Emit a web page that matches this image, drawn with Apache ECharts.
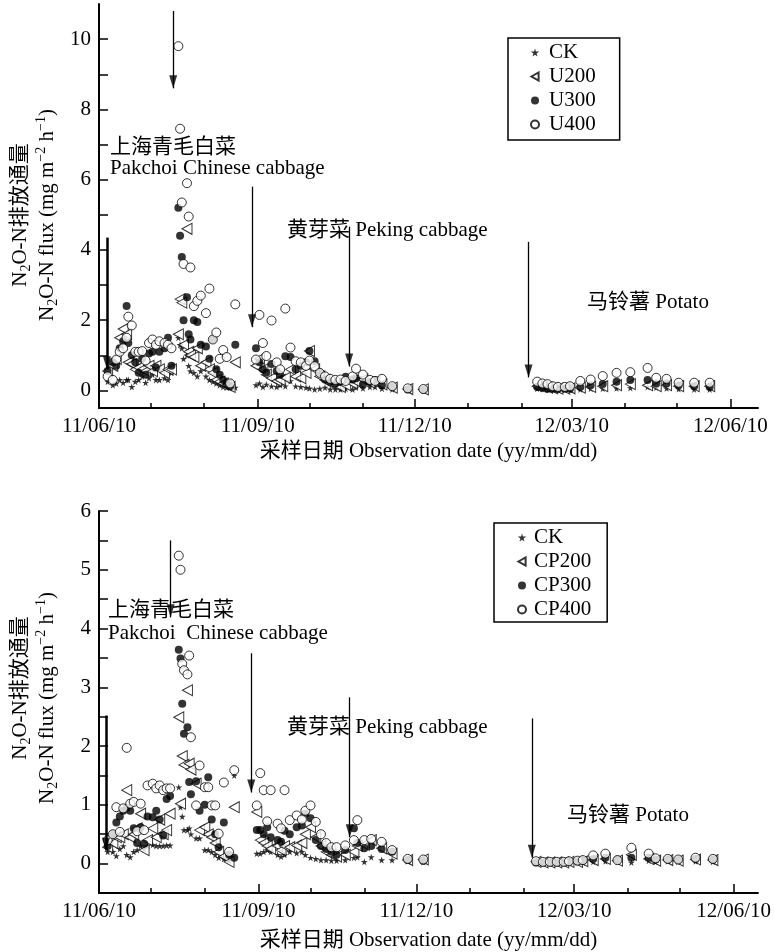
<!DOCTYPE html>
<html><head><meta charset="utf-8">
<script src="https://cdn.jsdelivr.net/npm/echarts@6/dist/echarts.min.js"></script>
<style>html,body{margin:0;padding:0;background:#fff}#c{width:774px;height:952px}</style>
</head><body><div id="c"></div>
<script>
const FONT = "'Liberation Serif','Times New Roman','Noto Sans CJK SC',serif";

// x values: days since 2011-06-10
const xTickDays = [0, 92, 183, 274, 366];
const xTickLabels = ['11/06/10', '11/09/10', '11/12/10', '12/03/10', '12/06/10'];
const xMinorDays = [30, 61, 122, 153, 214, 245, 305, 335];

// ---------- top panel (urea) ----------
const topDays = [5,8,10,12,14,16,17,19,21,23,25,27,29,31,33,35,38,40,42,46,47,48,49,51,52,53,55,57,59,62,64,66,68,70,72,74,76,79,
  91,93,95,97,100,103,105,108,111,114,117,120,122,125,128,131,134,137,140,143,147,149,153,157,160,164,170,179,188,
  254,257,260,263,266,270,273,279,285,292,300,308,318,323,329,336,345,354];
const topCK = [0.25,0.15,0.2,0.3,0.22,0.3,0.3,0.1,0.25,0.3,0.4,0.22,0.35,0.45,0.3,0.3,0.35,0.3,0.5,1.5,1.3,1.2,0.9,1.0,0.7,0.55,0.5,0.4,0.55,0.4,0.3,0.25,0.2,0.15,0.1,0.08,0.08,0.08,
  0.15,0.2,0.1,0.17,0.12,0.1,0.15,0.12,0.27,0.12,0.1,0.08,0.06,0.03,0.05,0.08,0.03,0.03,0.03,0.05,0.03,0.08,0.06,0.1,0.1,0.05,0.03,0.02,0.01,
  0.05,0.04,0.03,0.03,0.02,0.02,0.02,0.03,0.05,0.05,0.06,0.07,0.1,0.08,0.06,0.04,0.03,0.03];
const topU200 = [0.55,0.7,0.9,1.5,1.75,1.6,0.8,0.75,0.6,0.65,0.6,0.55,0.7,0.55,0.7,0.6,0.5,0.6,0.6,1.6,2.6,2.5,1.3,4.6,1.1,1.0,0.95,1.2,0.7,0.8,0.6,0.5,0.3,0.25,0.2,0.15,0.1,0.8,
  0.7,0.9,0.6,0.45,0.35,0.27,0.3,0.36,0.6,0.4,0.35,0.5,1.12,0.6,0.4,0.3,0.2,0.15,0.1,0.15,0.2,0.25,0.31,0.22,0.25,0.17,0.08,0.04,0.03,
  0.12,0.1,0.08,0.06,0.05,0.05,0.06,0.08,0.1,0.12,0.15,0.18,0.15,0.12,0.15,0.12,0.12,0.12];
const topU300 = [0.55,0.8,0.7,1.2,1.4,2.4,1.35,1.0,0.8,0.5,0.9,0.45,1.05,1.1,0.65,1.1,1.2,1.5,0.7,5.2,4.4,3.8,2.0,2.65,1.6,1.45,2.0,1.95,1.3,1.25,0.9,1.45,0.6,0.45,0.3,0.2,0.12,1.3,
  1.2,0.8,0.6,0.5,0.75,0.55,0.45,0.97,0.95,0.6,0.7,0.8,1.12,0.83,0.5,0.31,0.25,0.2,0.25,0.39,0.31,0.35,0.17,0.24,0.3,0.15,0.1,0.03,0.02,
  0.1,0.08,0.05,0.05,0.04,0.05,0.05,0.1,0.15,0.18,0.25,0.3,0.3,0.2,0.2,0.15,0.12,0.1];
const topU400 = [0.4,0.3,0.88,1.1,1.2,1.5,2.1,1.85,1.1,1.1,1.12,0.85,1.35,1.45,1.3,1.4,1.35,1.3,1.2,9.8,7.45,5.35,3.6,5.9,4.95,3.5,2.4,2.55,2.7,2.2,2.9,1.45,1.65,0.9,1.15,0.95,0.2,2.45,
  0.88,2.15,1.35,0.98,1.99,0.8,0.6,2.33,1.22,0.83,0.8,0.7,0.85,0.69,0.5,0.4,0.33,0.3,0.31,0.27,0.4,0.62,0.45,0.3,0.27,0.33,0.12,0.06,0.04,
  0.25,0.2,0.18,0.12,0.1,0.1,0.12,0.27,0.31,0.41,0.5,0.52,0.64,0.36,0.33,0.22,0.22,0.22];

// ---------- bottom panel (compound) ----------
const botDays = [5,8,10,12,14,16,18,20,22,24,26,28,31,33,35,37,39,41,46,47,48,49,51,52,53,56,58,61,63,65,67,69,72,75,78,
  91,93,95,97,99,103,105,107,110,114,117,119,122,125,128,131,134,137,142,147,149,153,157,163,169,178,187,
  252,256,260,264,268,271,276,279,285,292,299,307,317,321,328,334,344,354];
const botCK = [0.2,0.2,0.13,0.25,0.3,0.15,0.11,0.2,0.23,0.3,0.25,0.3,0.32,0.3,0.3,0.3,0.31,0.31,1.3,0.96,0.8,0.57,0.57,0.6,0.5,0.43,0.43,0.23,0.23,0.2,0.15,0.1,0.08,0.05,1.5,
  0.17,0.17,0.2,0.23,0.2,0.15,0.12,0.15,0.2,0.18,0.2,0.15,0.1,0.08,0.06,0.06,0.05,0.05,0.06,0.1,0.11,0.03,0.11,0.06,0.06,0.04,0.03,
  0.01,0.01,0.01,0.01,0.01,0.01,0.02,0.02,0.03,0.04,0.03,0.02,0.05,0.03,0.04,0.03,0.04,0.03];
const botCP200 = [0.28,0.35,0.45,0.45,0.5,1.25,0.45,0.5,0.6,0.85,0.23,0.4,0.6,0.45,0.75,0.5,0.57,0.85,2.49,1.02,1.83,1.68,2.95,1.7,1.6,1.36,0.57,0.62,0.5,0.45,0.35,0.2,0.12,0.03,0.96,
  0.88,0.4,0.35,0.3,0.25,0.3,0.23,0.3,0.28,0.31,0.35,0.5,0.62,0.45,0.3,0.2,0.15,0.12,0.15,0.2,0.3,0.32,0.4,0.26,0.17,0.06,0.07,
  0.03,0.02,0.02,0.02,0.02,0.03,0.03,0.04,0.06,0.08,0.05,0.15,0.08,0.05,0.06,0.05,0.07,0.06];
const botCP300 = [0.3,0.5,0.7,0.8,0.9,0.95,0.9,0.6,0.35,0.62,0.34,0.8,0.79,0.9,0.75,0.48,1.1,1.15,3.64,3.49,2.72,2.21,2.32,1.39,1.18,1.4,0.9,1.0,1.47,0.75,0.5,0.28,0.7,0.15,0.1,
  0.57,0.57,0.5,0.62,0.45,0.4,0.37,0.56,0.5,0.62,0.65,0.85,0.77,0.4,0.3,0.25,0.2,0.15,0.23,0.6,0.35,0.26,0.3,0.25,0.2,0.06,0.05,
  0.02,0.02,0.02,0.02,0.02,0.03,0.04,0.05,0.08,0.1,0.07,0.1,0.1,0.07,0.07,0.06,0.08,0.07];
const botCP400 = [0.4,0.5,0.96,0.54,0.94,1.97,1.02,1.05,0.55,1.02,0.57,1.33,1.36,1.28,1.33,1.25,1.28,1.28,5.24,5.0,3.4,3.29,3.22,3.54,2.15,0.99,1.67,1.3,1.3,0.99,0.99,0.51,1.38,0.2,1.59,
  0.99,1.54,1.25,0.72,1.25,0.68,0.6,1.25,0.74,0.82,0.75,0.9,0.99,0.71,0.5,0.35,0.28,0.28,0.31,0.4,0.74,0.4,0.42,0.37,0.23,0.08,0.07,
  0.04,0.03,0.03,0.03,0.03,0.04,0.05,0.06,0.14,0.17,0.06,0.27,0.17,0.09,0.08,0.07,0.1,0.08];

// arrows: [day, top value, tip value]
const topArrows = [[4.6, 4.35, 0.6], [43, 10.8, 8.6], [88.7, 5.8, 1.8], [145, 4.66, 0.68], [249, 4.23, 0.37]];
const botArrows = [[4.0, 2.52, 0.22], [41.3, 5.5, 4.19], [87.8, 3.58, 1.21], [144.6, 2.83, 0.45], [249.6, 2.47, 0.1]];

const topYTicks = [0,1,2,3,4,5,6,7,8,9,10];
const topYLabels = [0,2,4,6,8,10];
const botYTicks = [0,0.5,1,1.5,2,2.5,3,3.5,4,4.5,5,5.5,6];
const botYLabels = [0,1,2,3,4,5,6];

const STAR = 'path://M50,0 L61,35 L98,35 L68,57 L79,91 L50,70 L21,91 L32,57 L2,35 L39,35 Z';
const TRI = 'path://M0,50 L90,0 L90,100 Z';
const HEAD = 'path://M0,0 L10,0 L5,16 Z';

const pairs = (d, v) => d.map((x, i) => [x, v[i]]);
const txt = {fontFamily: FONT, fontSize: 21, color: '#000'};

function xAxes(grid, max, gap) {
  return [{
    gridIndex: grid, type: 'value', min: 0, max: max,
    axisLine: {onZero: false, lineStyle: {color: '#000', width: 2}},
    axisTick: {inside: true, length: 9, customValues: xTickDays, lineStyle: {color: '#000', width: 1.5}},
    axisLabel: Object.assign({customValues: xTickDays, margin: 8,
      formatter: v => { const i = xTickDays.indexOf(v); return i >= 0 ? xTickLabels[i] : ''; }}, txt),
    splitLine: {show: false},
    name: '采样日期 Observation date (yy/mm/dd)', nameLocation: 'middle', nameGap: gap, nameTextStyle: txt
  }, {
    gridIndex: grid, type: 'value', min: 0, max: max, position: 'bottom',
    axisLine: {show: false, onZero: false},
    axisTick: {inside: true, length: 5, customValues: xMinorDays, lineStyle: {color: '#000', width: 1.5}},
    axisLabel: {show: false}, splitLine: {show: false}
  }];
}
function yAxis(grid, max, ticks, labels) {
  return {
    gridIndex: grid, type: 'value', min: -0.5, max: max,
    axisLine: {onZero: false, lineStyle: {color: '#000', width: 2}},
    axisTick: {inside: true, length: 9, customValues: ticks, lineStyle: {color: '#000', width: 1.5}},
    axisLabel: Object.assign({customValues: labels, margin: 8}, txt),
    splitLine: {show: false}
  };
}
function dataSeries(name, xi, yi, d, v, kind) {
  const s = {name, type: 'scatter', xAxisIndex: xi, yAxisIndex: yi, data: pairs(d, v), animation: false};
  if (kind === 'star') Object.assign(s, {symbol: STAR, symbolSize: 7, itemStyle: {color: '#000'}});
  if (kind === 'tri') Object.assign(s, {symbol: TRI, symbolSize: [10, 11], itemStyle: {color: '#fff', borderColor: '#000', borderWidth: 1}});
  if (kind === 'dot') Object.assign(s, {symbol: 'circle', symbolSize: 8, itemStyle: {color: '#000'}});
  if (kind === 'ring') Object.assign(s, {symbol: 'circle', symbolSize: 9, itemStyle: {color: '#fff', borderColor: '#000', borderWidth: 1}});
  return s;
}
function arrowSeries(xi, yi, arrows) {
  return {
    name: 'arrows', type: 'scatter', xAxisIndex: xi, yAxisIndex: yi, z: 5, animation: false, silent: true,
    symbol: HEAD, symbolSize: [8, 13], symbolOffset: [0, -6.5], itemStyle: {color: '#000'},
    data: arrows.map(a => [a[0], a[2]]),
    markLine: {
      silent: true, animation: false, symbol: ['none', 'none'], label: {show: false},
      data: arrows.map((a, i) => [
        {coord: [a[0], a[1]], lineStyle: {color: '#000', width: i === 0 ? 2.5 : 1.3, type: 'solid'}},
        {coord: [a[0], a[2]]}
      ])
    }
  };
}
function yName(x, y, rich) {
  return {type: 'text', x: x, y: y, rotation: Math.PI / 2, silent: true,
    style: {text: rich, textAlign: 'center', textVerticalAlign: 'middle', align: 'center', verticalAlign: 'middle',
      fill: '#000', fontFamily: FONT, fontSize: 21,
      rich: {
        a: {fontFamily: FONT, fontSize: 21, lineHeight: 26, verticalAlign: 'middle', fill: '#000'},
        s: {fontFamily: FONT, fontSize: 14, lineHeight: 14, verticalAlign: 'bottom', fill: '#000'},
        p: {fontFamily: FONT, fontSize: 14, lineHeight: 14, verticalAlign: 'top', fill: '#000'}
      }}};
}
function label(x, y, text) {
  return {type: 'text', x: x, y: y, silent: true,
    style: {text: text, fill: '#000', fontFamily: FONT, fontSize: 21, textVerticalAlign: 'middle', verticalAlign: 'middle'}};
}
const L1 = '{a|N}{s|2}{a|O-N排放通量}';
const L2 = '{a|N}{s|2}{a|O-N flux (mg m}{p|−2}{a| h}{p|−1}{a|)}';

const legendBase = {orient: 'vertical', itemGap: 3, itemHeight: 8, borderColor: '#000', borderWidth: 1.5,
  borderRadius: 0, selectedMode: false, textStyle: Object.assign({lineHeight: 21}, txt)};

const chart = echarts.init(document.getElementById('c'), null, {renderer: 'canvas'});
chart.setOption({
  animation: false,
  backgroundColor: '#fff',
  grid: [
    {left: 99, top: 4, width: 659, height: 404},
    {left: 99, top: 511, width: 663, height: 382}
  ],
  xAxis: [...xAxes(0, 382, 33), ...xAxes(1, 380, 37)],
  yAxis: [yAxis(0, 11, topYTicks, topYLabels), yAxis(1, 6, botYTicks, botYLabels)],
  legend: [
    Object.assign({data: ['CK', 'U200', 'U300', 'U400'], left: 508, top: 38, padding: [4, 24, 5, 22], itemWidth: 18}, legendBase),
    Object.assign({data: ['CK', 'CP200', 'CP300', 'CP400'], left: 494, top: 523, padding: [4, 16, 2, 23], itemWidth: 14}, legendBase)
  ],
  series: [
    dataSeries('CK', 0, 0, topDays, topCK, 'star'),
    dataSeries('U200', 0, 0, topDays, topU200, 'tri'),
    dataSeries('U300', 0, 0, topDays, topU300, 'dot'),
    dataSeries('U400', 0, 0, topDays, topU400, 'ring'),
    arrowSeries(0, 0, topArrows),
    dataSeries('CK', 2, 1, botDays, botCK, 'star'),
    dataSeries('CP200', 2, 1, botDays, botCP200, 'tri'),
    dataSeries('CP300', 2, 1, botDays, botCP300, 'dot'),
    dataSeries('CP400', 2, 1, botDays, botCP400, 'ring'),
    arrowSeries(2, 1, botArrows)
  ],
  graphic: [
    yName(20, 215, L1), yName(47, 215, L2),
    yName(20, 688, L1), yName(47, 698, L2),
    label(110, 147, '上海青毛白菜'),
    label(110, 168, 'Pakchoi Chinese cabbage'),
    label(287, 230, '黄芽菜 Peking cabbage'),
    label(587, 302, '马铃薯 Potato'),
    label(108, 610, '上海青毛白菜'),
    label(108, 633, 'Pakchoi  Chinese cabbage'),
    label(287, 727, '黄芽菜 Peking cabbage'),
    label(567, 815, '马铃薯 Potato')
  ]
});
</script></body></html>
